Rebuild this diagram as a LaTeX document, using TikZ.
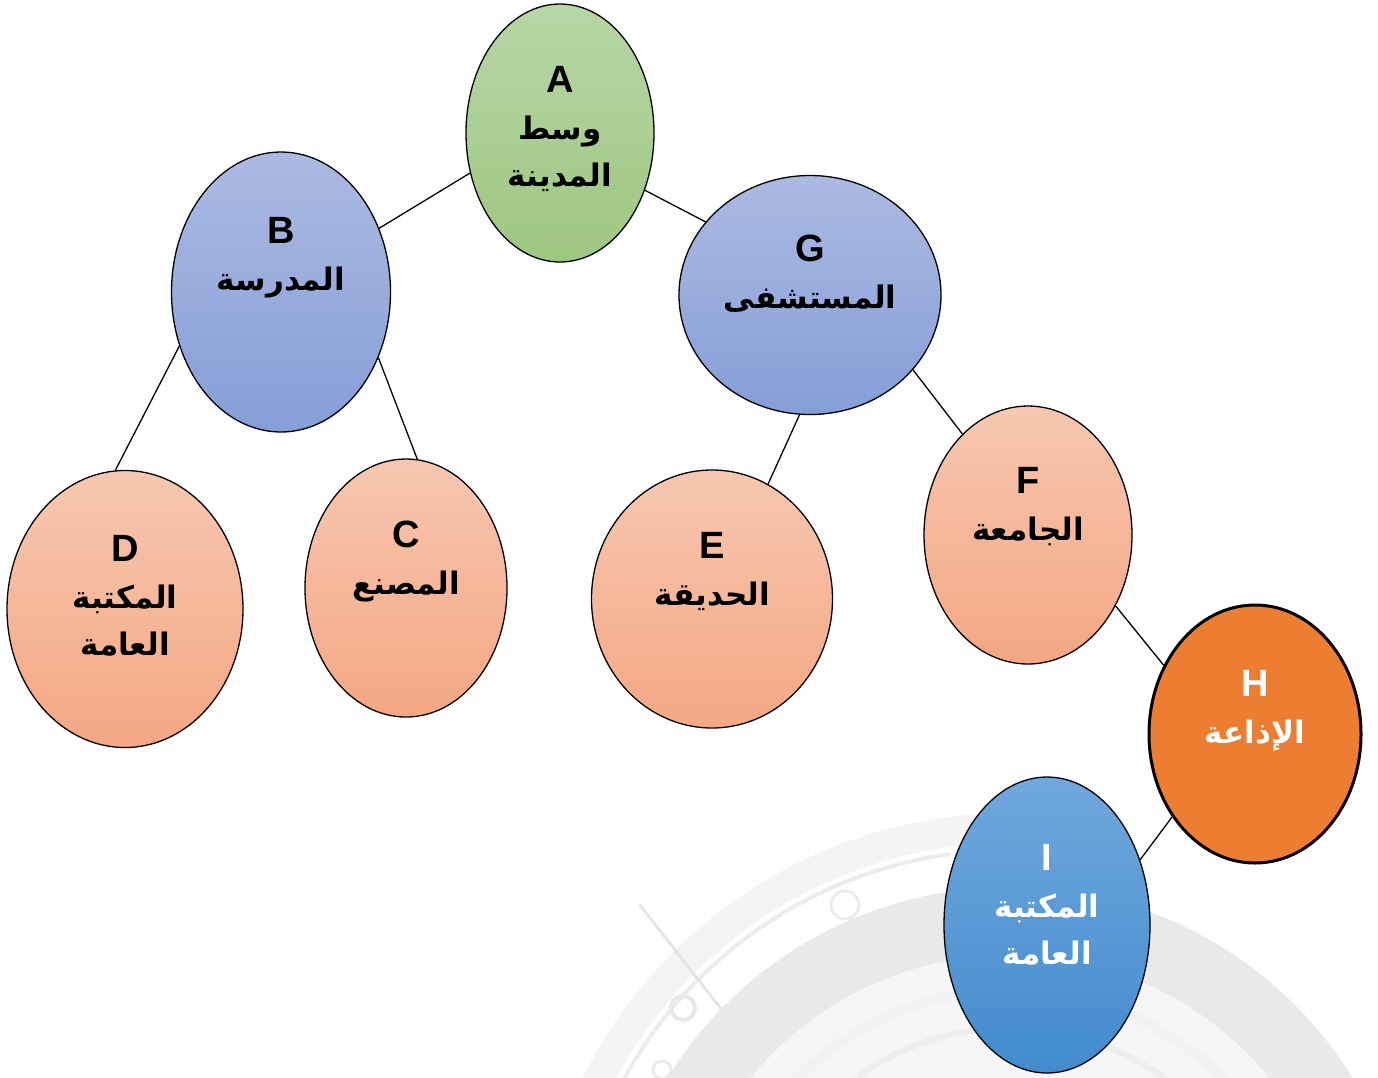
\documentclass[tikz,border=0pt]{standalone}
\usepackage{fontspec}
\setmainfont{Liberation Sans}
\newfontfamily\arabicfont[Script=Arabic]{DejaVu Sans}
\TeXXeTstate=1
\usetikzlibrary{shapes.geometric}

\definecolor{grnTop}{RGB}{183,214,166}
\definecolor{grnBot}{RGB}{158,199,129}
\definecolor{bluTop}{RGB}{172,186,226}
\definecolor{bluBot}{RGB}{133,158,215}
\definecolor{orgTop}{RGB}{247,199,177}
\definecolor{orgBot}{RGB}{244,167,131}
\definecolor{radio}{RGB}{237,125,49}
\definecolor{skyTop}{RGB}{112,168,222}
\definecolor{skyBot}{RGB}{66,139,205}

\newcommand{\ar}[1]{{\arabicfont\bfseries\fontsize{31}{47}\selectfont\beginR #1\endR}}
\newcommand{\ltr}[1]{{\bfseries\fontsize{38}{47}\selectfont #1}}

\tikzset{
  place/.style={ellipse, draw=black, line width=1.3pt, inner sep=0pt},
  green/.style={place, top color=grnTop, bottom color=grnBot},
  blue/.style={place, top color=bluTop, bottom color=bluBot},
  peach/.style={place, top color=orgTop, bottom color=orgBot},
  radiobox/.style={place, fill=radio, line width=3pt},
  sky/.style={place, top color=skyTop, bottom color=skyBot},
  lbl/.style={align=center, font=\fontsize{31}{47}\selectfont, text=black, anchor=north},
  wlbl/.style={lbl, text=white},
  link/.style={line width=1.3pt, black},
  faint/.style={line width=#1, line cap=round}
}

\begin{document}
\begin{tikzpicture}[x=1pt, y=-1pt]
\useasboundingbox (0,0) rectangle (1378,1077);

% faded machine part in the background
\begin{scope}
  \clip (0,0) rectangle (1378,1077);
  \coordinate (hub) at (1010,1290);
  % broad outer rim
  \draw[faint=30pt, gray!9] (hub) ++(204:462) arc[start angle=204, end angle=266, radius=462];
  \draw[faint=4pt, gray!15] (hub) ++(207:440) arc[start angle=207, end angle=262, radius=440];
  % darker housing ring
  \fill[gray!17] (hub) circle (403);
  \fill[white!93!gray] (hub) circle (335);
  \draw[faint=10pt, gray!10] (hub) ++(210:300) arc[start angle=210, end angle=330, radius=300];
  \draw[faint=6pt, gray!13] (hub) ++(212:262) arc[start angle=212, end angle=328, radius=262];
  % seam and bolts
  \draw[faint=3pt, gray!20] (640,905) -- (722,1010);
  \draw[faint=4pt, gray!18] (683,1008) circle (12);
  \draw[faint=3pt, gray!16] (662,1070) circle (9);
  \draw[faint=3pt, gray!16] (845,905) circle (14);
\end{scope}

% places
\node[green, minimum width=188pt, minimum height=258pt] (A) at (560,133) {};
\node[blue, minimum width=219pt, minimum height=280pt] (B) at (281,292) {};
\node[blue, minimum width=262pt, minimum height=239pt] (G) at (810,295) {};
\node[peach, minimum width=236pt, minimum height=277pt] (D) at (125,609) {};
\node[peach, minimum width=202pt, minimum height=258pt] (C) at (406,588) {};
\node[peach, minimum width=241pt, minimum height=258pt] (E) at (712,599) {};
\node[peach, minimum width=208pt, minimum height=258pt] (F) at (1028,535) {};
\node[radiobox, minimum width=212pt, minimum height=258pt] (H) at (1255,734) {};
\node[sky, minimum width=206pt, minimum height=296pt] (I) at (1047,925) {};

% labels
\node[lbl] (At) at (560,63) {\ltr{A}\\\ar{وسط}\\\ar{المدينة}};
\node[lbl] (Bt) at (281,214) {\ltr{B}\\\ar{المدرسة}};
\node[lbl] (Gt) at (810,231) {\ltr{G}\\\ar{المستشفى}};
\node[lbl] (Dt) at (125,532) {\ltr{D}\\\ar{المكتبة}\\\ar{العامة}};
\node[lbl] (Ct) at (406,517) {\ltr{C}\\\ar{المصنع}};
\node[lbl] (Et) at (712,529) {\ltr{E}\\\ar{الحديقة}};
\node[lbl] (Ft) at (1028,464) {\ltr{F}\\\ar{الجامعة}};
\node[wlbl] (Ht) at (1255,667) {\ltr{H}\\\ar{الإذاعة}};
\node[wlbl] (It) at (1047,841) {\ltr{I}\\\ar{المكتبة}\\\ar{العامة}};

% connectors
\draw[link] (A.204) -- (B.33);
\draw[link] (A.-34) -- (G.145);
\draw[link] (B.208) -- (D.94);
\draw[link] (B.-34) -- (C.85);
\draw[link] (G.265) -- (E.64);
\draw[link] (G.-36) -- (F.123);
\draw[link] (F.-39) -- (H.143);
\draw[link] (H.225) -- (I.35);
\end{tikzpicture}
\end{document}
